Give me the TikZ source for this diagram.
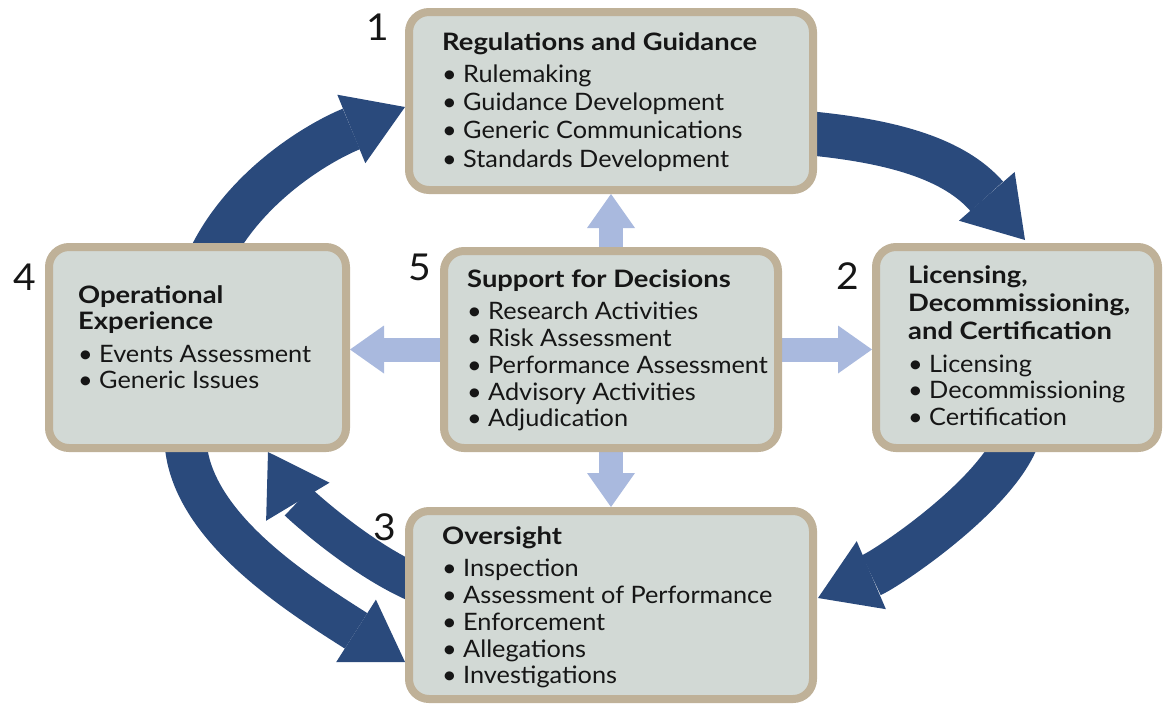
\documentclass[tikz,border=0pt]{standalone}
\usepackage{fontspec}
\setmainfont{Lato}[FakeStretch=1.054, BoldFeatures={FakeStretch=1.14}]
\usetikzlibrary{arrows.meta,calc,backgrounds}
\definecolor{boxfill}{HTML}{D2D9D5}
\definecolor{boxline}{HTML}{BFB198}
\definecolor{darkarr}{HTML}{2A4A7C}
\definecolor{lightarr}{HTML}{A9B9DE}
\definecolor{txt}{HTML}{161616}
\newcommand\mybul{\makebox[21pt][l]{\textbullet}}
\begin{document}
\begin{tikzpicture}[x=1pt,y=-1pt,
  box/.style={draw=boxline, fill=boxfill, line width=8pt, rounded corners=20pt,
    anchor=north west, inner sep=0pt, outer sep=4pt},
  ttl/.style={anchor=base west, inner sep=0pt, text=txt, font=\fontsize{24}{28}\selectfont\bfseries},
  itm/.style={anchor=base west, inner sep=0pt, text=txt, font=\fontsize{24}{28}\selectfont},
  num/.style={inner sep=0pt, text=txt, font=\fontsize{37}{40}\selectfont},
  dk/.style={draw=darkarr, line width=44pt, -{Triangle[width=74pt,length=58pt,line width=0pt,fill=darkarr,color=darkarr]}},
  lt/.style={draw=lightarr, line width=24pt, -{Triangle[width=48pt,length=34pt,line width=0pt,fill=lightarr,color=lightarr]}}
]
\useasboundingbox (0,0) rectangle (1163,705);

% boxes
\node[box, minimum width=404pt, minimum height=178pt] (b1) at (405,8) {};
\node[box, minimum width=282pt, minimum height=201pt] (b2) at (872,243) {};
\node[box, minimum width=297pt, minimum height=201pt] (b4) at (45,243) {};
\node[box, minimum width=334pt, minimum height=197pt] (b5) at (440,247) {};
\node[box, minimum width=404pt, minimum height=188pt] (b3) at (405,507) {};

% connectors under the boxes
\begin{scope}[on background layer]
\draw[dk] ($(b4.north west)+(163,19)$) .. controls +(34,-74) and +(-88,36) .. ($(b1.west)+(0,6)$);
\draw[dk] ($(b1.east)+(-22,31)$) .. controls +(100,8) and +(-70,-80) .. ($(b2.north)+(8,-3)$);
\draw[dk] ($(b2.south)+(3,-22)$) .. controls +(-15,60) and +(70,-30) .. ($(b3.east)+(1,-7)$);
\draw[dk, line width=42pt] ($(b4.south)+(-12,-22)$) .. controls +(-5,90) and +(-110,-70) .. ($(b3.west)+(0,57)$);
\draw[dk, line width=38pt] ($(b3.west)+(15,-20)$) .. controls +(-60,-25) and +(30,50) .. ($(b4.south east)+(-82,0)$);
\draw[lt] (b5.north) -- (b1.south);
\draw[lt] (b5.south) -- (b5.south |- b3.north);
\draw[lt] (b5.west) -- (b5.west -| b4.east);
\draw[lt] (b5.east) -- (b5.east -| b2.west);
\end{scope}

% numbers
\node[num] (n1) at (378,27) {1};
\node[num] (n2) at (848,276) {2};
\node[num] (n3) at (385,527) {3};
\node[num] (n4) at (25,277) {4};
\node[num] (n5) at (420,267) {5};

% box 1
\node[ttl] (t1) at (442,50) {Regulations and Guidance};
\node[itm] (i11) at (442,82) {\mybul Rulemaking};
\node[itm] (i12) at (442,110) {\mybul Guidance Development};
\node[itm] (i13) at (442,138) {\mybul Generic Communications};
\node[itm] (i14) at (442,167) {\mybul Standards Development};

% box 2
\node[ttl] (t2a) at (908,283) {Licensing,};
\node[ttl] (t2b) at (908,311) {Decommissioning,};
\node[ttl] (t2c) at (908,339) {and Certification};
\node[itm] (i21) at (908,372) {\mybul Licensing};
\node[itm] (i22) at (908,398) {\mybul Decommissioning};
\node[itm] (i23) at (908,425) {\mybul Certification};

% box 4
\node[ttl] (t4a) at (78,303) {Operational};
\node[ttl] (t4b) at (78,329) {Experience};
\node[itm] (i41) at (78,362) {\mybul Events Assessment};
\node[itm] (i42) at (78,388) {\mybul Generic Issues};

% box 5
\node[ttl] (t5) at (467,287) {Support for Decisions};
\node[itm] (i51) at (467,319) {\mybul Research Activities};
\node[itm] (i52) at (467,346) {\mybul Risk Assessment};
\node[itm] (i53) at (467,373) {\mybul Performance Assessment};
\node[itm] (i54) at (467,400) {\mybul Advisory Activities};
\node[itm] (i55) at (467,426) {\mybul Adjudication};

% box 3
\node[ttl] (t3) at (442,544) {Oversight};
\node[itm] (i31) at (442,576) {\mybul Inspection};
\node[itm] (i32) at (442,603) {\mybul Assessment of Performance};
\node[itm] (i33) at (442,630) {\mybul Enforcement};
\node[itm] (i34) at (442,657) {\mybul Allegations};
\node[itm] (i35) at (442,683) {\mybul Investigations};
\end{tikzpicture}
\end{document}
